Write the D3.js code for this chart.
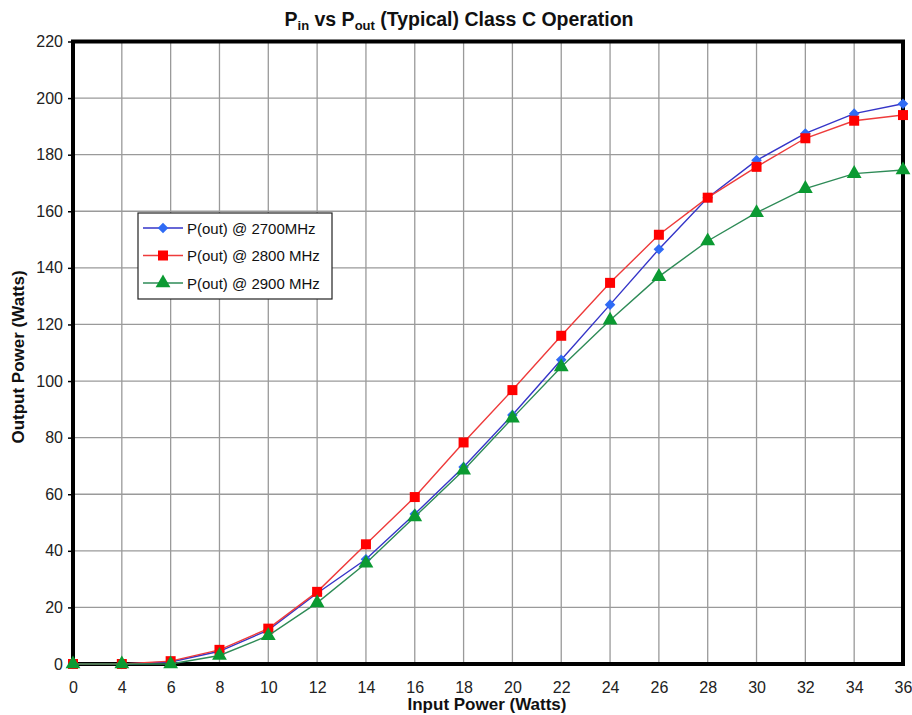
<!DOCTYPE html>
<html lang="en">
<head>
  <meta charset="UTF-8">
  <title>Pin vs Pout</title>
  <style>
    body { margin: 0; background: #fff; }
    svg text { font-family: "Liberation Sans", Arial, sans-serif; }
  </style>
</head>
<body>
  <svg id="chart" width="912" height="715"></svg>
  <script src="https://d3js.org/d3.v7.min.js"></script>
  <script>
    // input power categories (Excel line chart, evenly spaced)
    let inputPower = ["0", "4", "6", "8", "10", "12", "14", "16", "18", "20", "22", "24", "26", "28", "30", "32", "34", "36"];
    let p2700 = [0, 0, 0.7, 4.5, 12, 25, 37, 53, 69.6, 88, 107.5, 127, 146.6, 164.8, 178, 187.5, 194.5, 198];
    let p2800 = [0, 0, 1, 5, 12.5, 25.5, 42.3, 59, 78.3, 96.8, 116, 134.7, 151.7, 164.8, 175.7, 185.8, 192, 194];
    let p2900 = [0, 0, 0, 3, 10, 21.6, 35.6, 52, 68.5, 86.9, 105, 121.5, 136.9, 149.5, 159.5, 168, 173.3, 174.6];
    let yTicks = [0, 20, 40, 60, 80, 100, 120, 140, 160, 180, 200, 220];

    let series = [
      { name: "P(out) @ 2700MHz", values: p2700, line: "#3535c8", fill: "#2f6bf5", shape: d3.symbolSquare, size: 56, rot: 45 },
      { name: "P(out) @ 2800 MHz", values: p2800, line: "#ee3b3b", fill: "#ff0000", shape: d3.symbolSquare, size: 100, rot: 0 },
      { name: "P(out) @ 2900 MHz", values: p2900, line: "#2e8b57", fill: "#0b9a32", shape: d3.symbolTriangle, size: 95, rot: 0 }
    ];

    let svg = d3.select("#chart");
    let pLeft = 73, pRight = 903, pTop = 41.5, pBottom = 664;

    let x = d3.scalePoint().domain(inputPower).range([pLeft, pRight]).padding(0);
    let y = d3.scaleLinear().domain([0, 220]).range([pBottom, pTop]);

    // grid
    svg.append("g").selectAll("line")
      .data(inputPower)
      .join("line")
      .attr("x1", d => x(d)).attr("x2", d => x(d))
      .attr("y1", pTop).attr("y2", pBottom)
      .attr("stroke", "#9a9a9a").attr("stroke-width", 1.3);
    svg.append("g").selectAll("line")
      .data(yTicks)
      .join("line")
      .attr("x1", pLeft).attr("x2", pRight)
      .attr("y1", d => y(d)).attr("y2", d => y(d))
      .attr("stroke", "#9a9a9a").attr("stroke-width", 1.3);

    // axes
    let yAxis = svg.append("g")
      .attr("transform", `translate(${pLeft},0)`)
      .call(d3.axisLeft(y).tickValues(yTicks).tickSize(5).tickPadding(5));
    let xAxis = svg.append("g")
      .attr("transform", `translate(0,${pBottom})`)
      .call(d3.axisBottom(x).tickSize(0).tickPadding(17.5));
    [yAxis, xAxis].forEach(a => {
      a.select(".domain").remove();
      a.selectAll("text").attr("font-size", 16).attr("fill", "#222")
        .style("font-family", "'Liberation Sans', Arial, sans-serif");
      a.selectAll("line").attr("stroke", "#000").attr("stroke-width", 1.5);
    });

    // frame
    svg.append("rect")
      .attr("x", pLeft).attr("y", pTop)
      .attr("width", pRight - pLeft).attr("height", pBottom - pTop)
      .attr("fill", "none").attr("stroke", "#000").attr("stroke-width", 4);

    // series
    let line = d3.line().x((d, i) => x(inputPower[i])).y(d => y(d));
    series.forEach(s => {
      svg.append("path")
        .datum(s.values)
        .attr("d", line)
        .attr("fill", "none")
        .attr("stroke", s.line)
        .attr("stroke-width", 1.4);
      svg.append("g").selectAll("path")
        .data(s.values)
        .join("path")
        .attr("transform", (d, i) => `translate(${x(inputPower[i])},${y(d)}) rotate(${s.rot})`)
        .attr("d", d3.symbol().type(s.shape).size(s.size))
        .attr("fill", s.fill);
    });

    // legend
    let legend = svg.append("g").attr("transform", "translate(138,213)");
    legend.append("rect")
      .attr("width", 194).attr("height", 86)
      .attr("fill", "#fff").attr("stroke", "#222").attr("stroke-width", 1.2);
    series.forEach((s, i) => {
      let g = legend.append("g").attr("transform", `translate(0,${15 + i * 27.5})`);
      g.append("line").attr("x1", 5).attr("x2", 45).attr("stroke", s.line).attr("stroke-width", 1.4);
      g.append("path")
        .attr("transform", `translate(25,0) rotate(${s.rot})`)
        .attr("d", d3.symbol().type(s.shape).size(s.size))
        .attr("fill", s.fill);
      g.append("text").attr("x", 49).attr("y", 5.5)
        .attr("font-size", 15).attr("fill", "#111").text(s.name);
    });

    // title
    let title = svg.append("text")
      .attr("x", 459).attr("y", 26)
      .attr("text-anchor", "middle")
      .attr("font-size", 19.5).attr("font-weight", "bold").attr("fill", "#111");
    title.append("tspan").text("P");
    title.append("tspan").attr("font-size", 13).attr("dy", 4).text("in");
    title.append("tspan").attr("dy", -4).text(" vs P");
    title.append("tspan").attr("font-size", 13).attr("dy", 4).text("out");
    title.append("tspan").attr("dy", -4).text(" (Typical) Class C Operation");

    // axis titles
    svg.append("text")
      .attr("x", 487).attr("y", 710)
      .attr("text-anchor", "middle")
      .attr("font-size", 17).attr("font-weight", "bold").attr("fill", "#111")
      .text("Input Power (Watts)");
    svg.append("text")
      .attr("transform", "translate(24,357) rotate(-90)")
      .attr("text-anchor", "middle")
      .attr("font-size", 17).attr("font-weight", "bold").attr("fill", "#111")
      .text("Output Power (Watts)");
  </script>
</body>
</html>
